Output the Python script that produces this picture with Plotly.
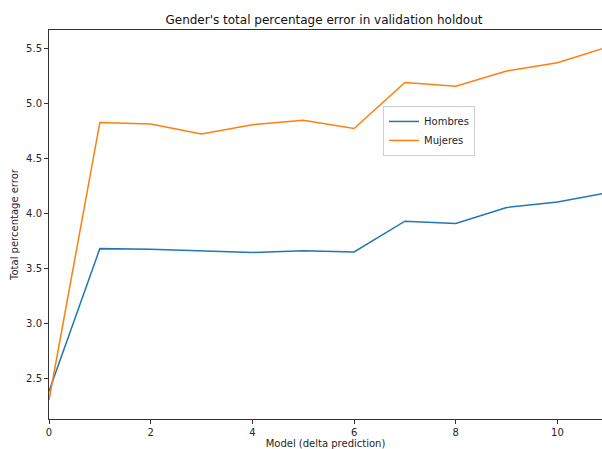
import plotly.graph_objects as go

# Model index (delta prediction) and total percentage error per gender
models = [0, 1, 2, 3, 4, 5, 6, 7, 8, 9, 10, 11]
hombres = [2.38, 3.68, 3.675, 3.66, 3.645, 3.66, 3.65, 3.93, 3.91, 4.055, 4.105, 4.19]
mujeres = [2.30, 4.83, 4.815, 4.725, 4.81, 4.85, 4.775, 5.195, 5.16, 5.30, 5.375, 5.52]

x_ticks = [0, 2, 4, 6, 8, 10]
y_ticks = [2.5, 3.0, 3.5, 4.0, 4.5, 5.0, 5.5]

FONT = "DejaVu Sans"

fig = go.Figure()
fig.add_trace(go.Scatter(x=models, y=hombres, mode="lines", name="Hombres",
                         line=dict(color="#1f77b4", width=1.5)))
fig.add_trace(go.Scatter(x=models, y=mujeres, mode="lines", name="Mujeres",
                         line=dict(color="#ff7f0e", width=1.5)))

axis_common = dict(
    showgrid=False, zeroline=False, showline=True, linecolor="#333333",
    linewidth=1, ticks="outside", ticklen=4, tickcolor="#333333",
    tickfont=dict(family=FONT, size=10, color="#262626"),
)

fig.update_layout(
    width=602, height=449,
    margin=dict(l=49, r=0, t=30, b=30),
    paper_bgcolor="white", plot_bgcolor="white",
    font=dict(family=FONT, size=10, color="#262626"),
    title=dict(text="Gender's total percentage error in validation holdout",
               xref="container", x=324 / 602, xanchor="center",
               yref="container", y=1 - 19.5 / 449, yanchor="middle",
               font=dict(family=FONT, size=12, color="#111111")),
    xaxis=dict(range=[0, 10.876], tickvals=x_ticks, mirror=True,
               title=dict(text="Model (delta prediction)", standoff=4,
                          font=dict(family=FONT, size=10, color="#262626")),
               **axis_common),
    yaxis=dict(range=[2.127, 5.673], tickvals=y_ticks, tickformat=".1f",
               title=dict(text="Total percentage error", standoff=5,
                          font=dict(family=FONT, size=10, color="#262626")),
               **axis_common),
    legend=dict(x=(383 - 49) / 553, y=1 - (106 - 30) / 389.3,
                xanchor="left", yanchor="top",
                bgcolor="white", bordercolor="#d0d0d0", borderwidth=1,
                itemwidth=30, tracegroupgap=0,
                font=dict(family=FONT, size=10, color="#262626")),
)

fig.write_html("out.html")
